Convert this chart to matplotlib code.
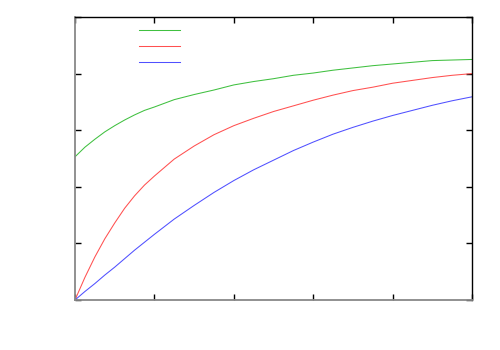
import matplotlib
matplotlib.use('Agg')
from matplotlib import pyplot as plt

# values (x from 0 to 100, y from 0 to 5)
x = [0, 2.5, 5, 7.5, 10, 12.5, 15, 17.5, 20, 25, 30, 35, 40, 45, 50,
     55, 60, 65, 70, 75, 80, 85, 90, 95, 100]
green = [2.53, 2.70, 2.84, 2.97, 3.08, 3.18, 3.27, 3.35, 3.41, 3.54, 3.63, 3.71, 3.80, 3.86, 3.91,
         3.97, 4.01, 4.06, 4.10, 4.14, 4.17, 4.20, 4.23, 4.24, 4.25]
red = [0.0, 0.40, 0.76, 1.08, 1.36, 1.62, 1.84, 2.03, 2.19, 2.49, 2.72, 2.92, 3.08, 3.21, 3.33,
       3.43, 3.53, 3.62, 3.70, 3.76, 3.83, 3.88, 3.93, 3.97, 4.00]
blue = [0.0, 0.15, 0.29, 0.44, 0.58, 0.73, 0.88, 1.02, 1.16, 1.43, 1.67, 1.90, 2.11, 2.30, 2.47,
        2.64, 2.79, 2.93, 3.05, 3.16, 3.26, 3.35, 3.44, 3.52, 3.59]
xticks = [0, 20, 40, 60, 80, 100]
yticks = [0, 1, 2, 3, 4, 5]

fig = plt.figure(figsize=(5, 3.5), dpi=100)
ax = fig.add_axes([0.15, 0.1429, 0.794, 0.8085])

l1, = ax.plot(x, green, color='#40c040', lw=0.75, label=' ')
l2, = ax.plot(x, red, color='#ff5050', lw=0.75, label=' ')
l3, = ax.plot(x, blue, color='#5050ff', lw=0.75, label=' ')

ax.set_xlim(0, 100)
ax.set_ylim(0, 5)
ax.set_xticks(xticks)
ax.set_yticks(yticks)
ax.tick_params(direction='in', length=4, width=1, top=True, right=True,
               labelbottom=False, labelleft=False)

for s in ['left', 'bottom']:
    ax.spines[s].set_color('#888888')
    ax.spines[s].set_linewidth(1.3)
for s in ['top', 'right']:
    ax.spines[s].set_color('black')
    ax.spines[s].set_linewidth(1)

ax.legend(handles=[l1, l2, l3], loc='upper left', bbox_to_anchor=(0.161, 0.968),
          frameon=False, fontsize=8, handlelength=3.69, handletextpad=0.3,
          borderpad=0, borderaxespad=0, labelspacing=0.55)

plt.savefig('out.png', dpi=100)
